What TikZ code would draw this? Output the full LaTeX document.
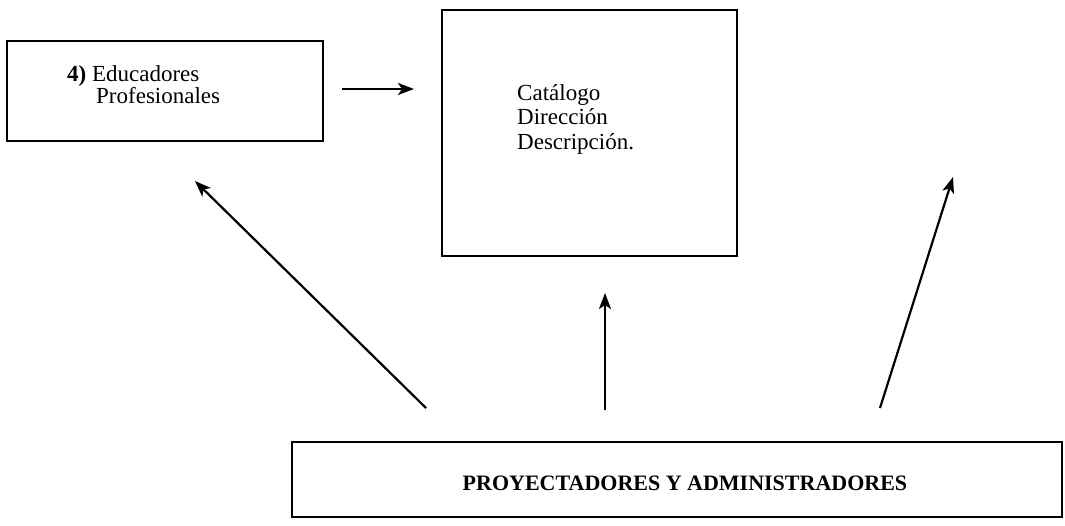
\documentclass[tikz,border=0pt]{standalone}
\usepackage{fontspec}
\setmainfont{Liberation Serif}
\usetikzlibrary{arrows.meta}
\begin{document}
\begin{tikzpicture}[x=1pt,y=-1pt,
  box/.style={draw=black,line width=2.4pt,rectangle,inner sep=0pt},
  txt/.style={anchor=base west,inner sep=0pt,font=\fontsize{23}{24.5}\selectfont},
  btxt/.style={anchor=base,inner sep=0pt,font=\fontsize{22}{24}\selectfont\bfseries},
  arr/.style={line width=2.2pt,-{Stealth[length=16pt,width=12pt,inset=4pt]}}]
\useasboundingbox (0,0) rectangle (1065,525);
% boxes
\node[box,minimum width=316pt,minimum height=100pt] (edu) at (165,91) {};
\node[box,minimum width=295pt,minimum height=246pt] (cat) at (589.5,133) {};
\node[box,minimum width=770pt,minimum height=75pt] (pro) at (677,479.5) {};
% texts
\node[txt] (edu1) at (67,81) {\textbf{4)} Educadores};
\node[txt] (edu2) at (96,103) {Profesionales};
\node[txt] (cat1) at (517,100) {Catálogo};
\node[txt] (cat2) at (517,124.5) {Dirección};
\node[txt] (cat3) at (517,149) {Descripción.};
\node[btxt] (pro1) at (685,490) {PROYECTADORES Y ADMINISTRADORES};
% arrow end points
\coordinate (h1) at (342,89);
\coordinate (h2) at (414,89);
\coordinate (a1) at (426,408);
\coordinate (b1) at (195,181);
\coordinate (a2) at (605,410);
\coordinate (b2) at (605,293);
\coordinate (a3) at (880,408);
\coordinate (b3) at (953,177);
\draw[arr] (h1) -- (h2);
\draw[arr] (a1) -- (b1);
\draw[arr] (a2) -- (b2);
\draw[arr] (a3) -- (b3);
\end{tikzpicture}
\end{document}
